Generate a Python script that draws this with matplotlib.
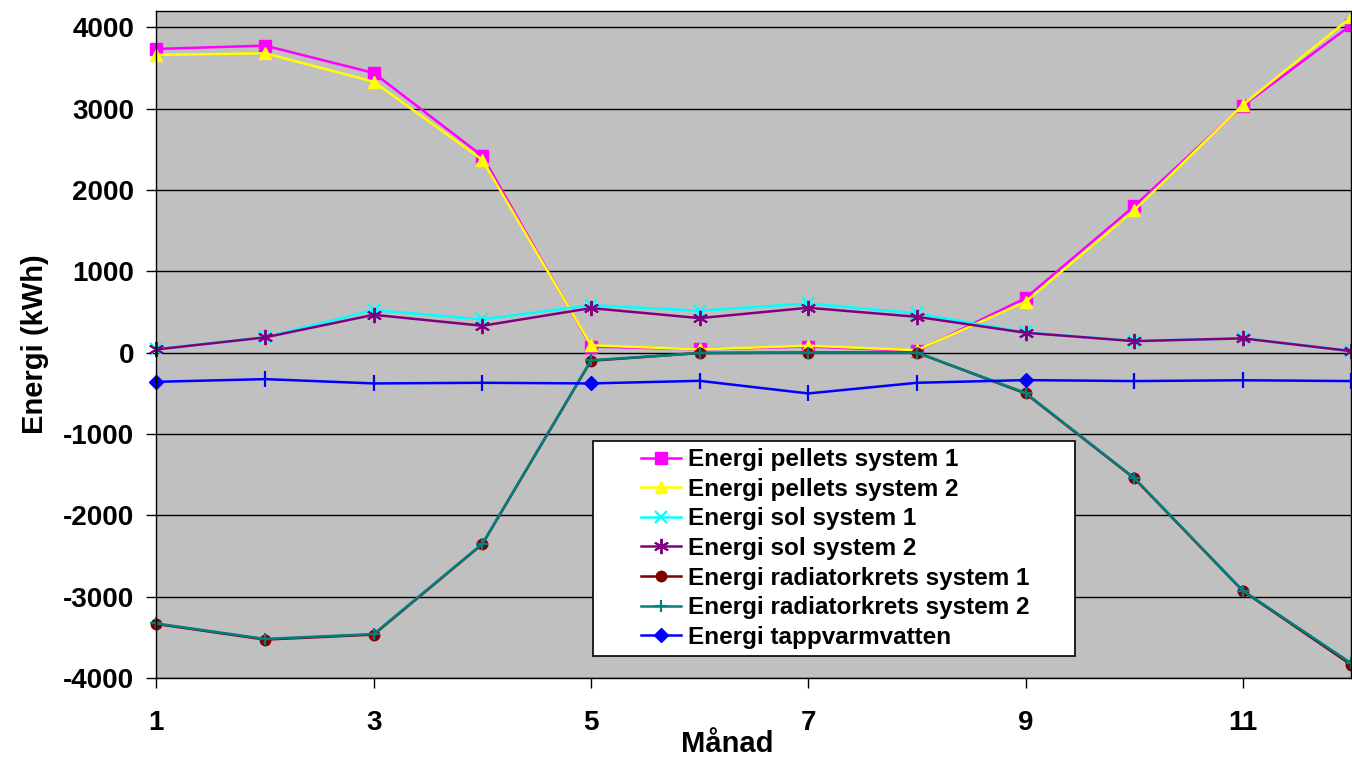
import numpy as np
import matplotlib.pyplot as plt
from matplotlib.legend_handler import HandlerLine2D

plt.rcParams['font.family'] = ['Liberation Sans', 'DejaVu Sans']
plt.rcParams['font.weight'] = 'bold'
plt.rcParams['axes.unicode_minus'] = False

months = np.arange(1, 13)

pellets_1 = [3733, 3774, 3438, 2417, 75, 40, 75, 20, 670, 1800, 3035, 4030]
pellets_2 = [3660, 3680, 3330, 2370, 90, 40, 85, 30, 625, 1750, 3045, 4125]
sol_1 = [40, 190, 523, 408, 584, 514, 605, 482, 248, 142, 178, 20]
sol_2 = [39, 187, 465, 330, 547, 424, 551, 440, 244, 141, 175, 18]
radiator_1 = [-3336, -3528, -3467, -2355, -100, -5, 0, 0, -502, -1545, -2930, -3840]
radiator_2 = [-3330, -3520, -3460, -2350, -95, -5, 0, 0, -495, -1540, -2925, -3820]
tappvatten = [-359, -326, -379, -371, -379, -347, -502, -371, -338, -350, -340, -350]

diamond_idx = [0, 4, 8]
bar_idx = [1, 2, 3, 5, 6, 7, 9, 10, 11]


class ShiftedLine(HandlerLine2D):
    # draw the legend line only in the right part of the handle box
    def create_artists(self, legend, orig_handle, xdescent, ydescent,
                       width, height, fontsize, trans):
        shift = width * 0.5
        return super().create_artists(legend, orig_handle, xdescent - shift,
                                      ydescent, width - shift, height,
                                      fontsize, trans)


fig = plt.figure(figsize=(13.52, 7.57), dpi=100)
ax = fig.add_axes([0.1157, 0.1044, 0.8839, 0.8811])
ax.set_facecolor('#C0C0C0')

lw = 1.8
ax.plot(months, pellets_1, color='#FF00FF', marker='s', ms=8.5, lw=lw,
        label='Energi pellets system 1', clip_on=False)
ax.plot(months, pellets_2, color='#FFFF00', marker='^', ms=9, lw=lw,
        label='Energi pellets system 2', clip_on=False)
ax.plot(months, sol_1, color='#00FFFF', marker='x', ms=9, mew=1.6, lw=lw,
        label='Energi sol system 1', clip_on=False)
ax.plot(months, sol_2, color='#800080', marker=(6, 2, 0), ms=11, mew=1.4, lw=lw,
        label='Energi sol system 2', clip_on=False)
ax.plot(months, radiator_1, color='#800000', marker='o', ms=7.5, lw=lw,
        label='Energi radiatorkrets system 1', clip_on=False)
ax.plot(months, radiator_2, color='#008080', marker='+', ms=9, mew=1.6, lw=lw,
        label='Energi radiatorkrets system 2', clip_on=False)
ax.plot(months, tappvatten, color='#0000FF', marker='D', ms=7.5, lw=lw,
        markevery=diamond_idx, label='Energi tappvarmvatten', clip_on=False)
ax.plot(months[bar_idx], np.array(tappvatten)[bar_idx], ls='none', color='#0000FF',
        marker='|', ms=12, mew=1.6, clip_on=False)

ax.set_xlim(1, 12)
ax.set_ylim(-4000, 4200)
ax.set_xticks([1, 3, 5, 7, 9, 11])
ax.set_yticks(np.arange(-4000, 4001, 1000))
ax.yaxis.grid(True, color='black', lw=1)
ax.set_axisbelow(True)
ax.tick_params(axis='x', direction='out', length=7, width=1, pad=16, labelsize=20)
ax.tick_params(axis='y', direction='out', length=7, width=1, pad=9, labelsize=20)
for lab in ax.get_xticklabels() + ax.get_yticklabels():
    lab.set_fontweight('bold')
for s in ax.spines.values():
    s.set_color('black')
    s.set_linewidth(1)

ax.set_xlabel('Månad', fontsize=21, fontweight='bold', labelpad=-4, x=0.478)
ax.set_ylabel('Energi (kWh)', fontsize=21, fontweight='bold', labelpad=10)

handles, labels = ax.get_legend_handles_labels()
leg = ax.legend(handles, labels, loc='lower left',
                bbox_to_anchor=(0.3657, 0.033, 0.4033, 0.3223),
                mode='expand', fontsize=17.5, frameon=True, fancybox=False,
                framealpha=1, edgecolor='black', handlelength=3.3,
                handletextpad=0.3, labelspacing=0.27, borderpad=0.3,
                borderaxespad=0,
                handler_map={h: ShiftedLine() for h in handles})
leg.get_frame().set_linewidth(1.2)
for t in leg.get_texts():
    t.set_fontweight('bold')

fig.savefig('out.png', dpi=100)
